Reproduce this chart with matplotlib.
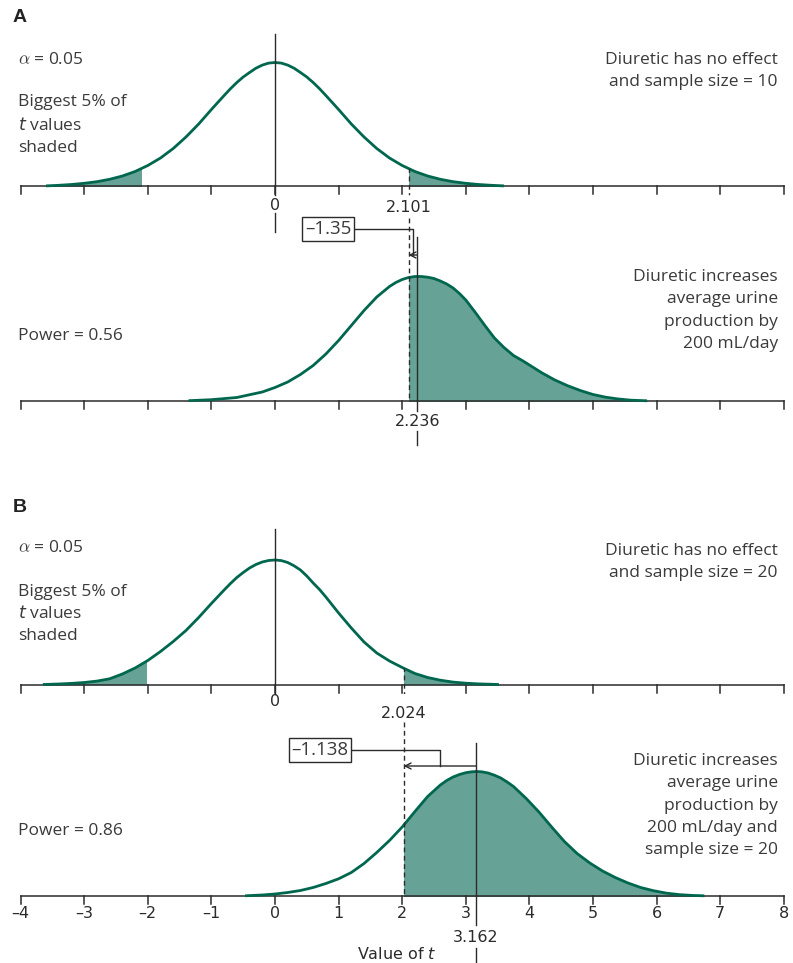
import numpy as np
import matplotlib.pyplot as plt
from matplotlib.patches import Rectangle, Polygon

# ---- values ----------------------------------------------------------
# t values along each curve and curve height (px above its axis line)
a_null_t = [-3.6, -3.4, -3.2, -3.0, -2.8, -2.6, -2.4, -2.2, -2.0, -1.8, -1.6, -1.4, -1.2,
            -1.0, -0.9, -0.8, -0.7, -0.6, -0.5, -0.4, -0.3, -0.2, -0.1, 0.0,
            0.1, 0.2, 0.3, 0.4, 0.5, 0.6, 0.7, 0.8, 0.9, 1.0, 1.2, 1.4, 1.6,
            1.8, 2.0, 2.2, 2.4, 2.6, 2.8, 3.0, 3.2, 3.4, 3.6]
a_null_h = [0.6, 1.2, 2.0, 3.2, 4.8, 7.2, 10.5, 15, 21, 28.5, 38, 49.5, 62.5,
            77, 84, 91, 97.8, 104, 109.5, 114, 118.3, 121.4, 123.4, 124,
            123.4, 121.4, 118.3, 114, 109.5, 104, 97.8, 91, 84, 77, 62.5, 49.5, 38,
            28.5, 21, 15, 10.5, 7.2, 4.8, 3.2, 2.0, 1.2, 0.6]

a_alt_t = [-1.36, -1.0, -0.6, -0.2, 0.0, 0.2, 0.4, 0.6, 0.8, 1.0, 1.2, 1.4, 1.6, 1.8,
           1.9, 2.0, 2.1, 2.2, 2.3, 2.4, 2.5, 2.6, 2.7, 2.8, 2.9, 3.0, 3.15, 3.3, 3.45,
           3.6, 3.75, 3.9, 4.05, 4.2, 4.4, 4.6, 4.8, 5.0, 5.2, 5.4, 5.6, 5.85]
a_alt_h = [0.8, 1.8, 4.0, 9.5, 14, 19.5, 27, 36, 47.5, 61, 76, 91, 104.5, 115,
           119, 122, 124, 125, 125, 124.3, 123, 120.5, 117.5, 113.5, 108, 101.5, 89, 76, 63.5,
           54, 46, 40.5, 34.5, 28.5, 21.5, 15.8, 11, 7, 4.3, 2.5, 1.3, 0.7]

b_null_t = [-3.65, -3.4, -3.2, -3.0, -2.8, -2.6, -2.4, -2.2, -2.0, -1.8, -1.6, -1.4,
            -1.2, -1.0, -0.8, -0.7, -0.6, -0.5, -0.4, -0.3, -0.2, -0.1, 0.0,
            0.1, 0.2, 0.3, 0.4, 0.5, 0.6, 0.7, 0.8, 1.0, 1.2, 1.4,
            1.6, 1.8, 2.0, 2.2, 2.4, 2.6, 2.8, 3.0, 3.2, 3.52]
b_null_h = [0.5, 1.0, 1.6, 2.5, 3.9, 6.2, 11, 17, 24.5, 33.5, 43.5, 54.5,
            67.5, 81.5, 95, 101.5, 107.5, 112.5, 117, 120.5, 123, 124.5, 125,
            124.4, 122.5, 119.2, 115, 109, 102, 95.5, 88, 72, 57, 43,
            32, 24, 17.5, 11.5, 7.5, 4.8, 2.9, 1.8, 1.1, 0.5]

b_alt_t = [-0.47, -0.2, 0.0, 0.2, 0.4, 0.6, 0.8, 1.0, 1.2, 1.4, 1.6, 1.8, 2.0, 2.2,
           2.4, 2.6, 2.7, 2.8, 2.9, 3.0, 3.08, 3.162, 3.25, 3.35, 3.45, 3.55, 3.65, 3.75,
           3.95, 4.15, 4.35, 4.55, 4.75, 4.95, 5.15, 5.35, 5.55, 5.75, 5.95, 6.15, 6.35,
           6.55, 6.75]
b_alt_h = [0.7, 1.5, 2.5, 4, 6, 9, 13, 17.7, 24, 33, 44, 56, 69.5, 85,
           100, 111.5, 116, 119.5, 122, 123.8, 124.6, 125, 124.7, 123.5, 121.3, 118.5, 114.5, 110,
           98, 84.5, 69.5, 55, 43, 33.5, 25.5, 19, 13.5, 9, 5.8, 3.4, 1.9,
           1.1, 0.7]

crit_a, crit_b = 2.101, 2.024
shift_a, shift_b = 2.236, 3.162
diff_a, diff_b = '\u20131.35', '\u20131.138'
power_a, power_b = 0.56, 0.86
alpha = 0.05
n_a, n_b = 10, 20

tick_vals = list(range(-4, 9))
tick_labels = [('\u2013%d' % -v) if v < 0 else str(v) for v in tick_vals]

# ---- look ------------------------------------------------------------
GREEN = '#00674f'
FILL = '#66a295'
DARK = '#2b2b2b'
TXT = '#3a3a3a'
MAIN = ['Open Sans', 'DejaVu Sans']
NUM = ['DejaVu Sans']

ZERO_PX, UNIT_PX = 275.0, 63.6


def px(x):
    """pixel column -> t value (for placing text)"""
    return (x - ZERO_PX) / UNIT_PX


fig = plt.figure(figsize=(7.93, 9.63), dpi=100)
ax = fig.add_axes([0, 0, 1, 1])
ax.set_xlim(px(0), px(793))
ax.set_ylim(963, 0)
ax.axis('off')


def axis_line(base):
    ax.plot([tick_vals[0], tick_vals[-1]], [base, base], color=DARK, lw=1.1, zorder=2)
    for v in tick_vals:
        ax.plot([v, v], [base, base + 8], color=DARK, lw=1.1, zorder=2)


def curve(t, h, base, shades):
    t = np.asarray(t, float)
    y = base - np.asarray(h, float)
    for lo, hi in shades:
        poly = ax.fill_between(t, base, y, color=FILL, lw=0, zorder=1)
        poly.set_clip_path(Rectangle((lo, 0), hi - lo, 963, transform=ax.transData))
    ax.plot(t, y, color=GREEN, lw=2.0, zorder=3, solid_capstyle='butt',
            solid_joinstyle='round')
    # outline used to cut dashed lines at the curve
    pts = np.column_stack([np.r_[t[0], t, t[-1]], np.r_[base + 9, y, base + 9]])
    return Polygon(pts, closed=True, transform=ax.transData)


def dashed(x, y0, y1, clip=None):
    ln, = ax.plot([x, x], [y0, y1], color=DARK, lw=1.0, ls=(0, (3.5, 2.5)), zorder=4)
    if clip is not None:
        ln.set_clip_path(clip)


def solid(x, y0, y1):
    ax.plot([x, x], [y0, y1], color=DARK, lw=1.0, zorder=4)


def lines(x, y, rows, ha='left', step=22.3):
    for i, s in enumerate(rows):
        ax.text(x, y + i * step, s, ha=ha, va='center', fontsize=12.5,
                color=TXT, family=MAIN)


def diff_box(xc, yb, text, mid, ya, x_from, x_to):
    ax.plot([xc, mid, mid], [yb, yb, ya], color=DARK, lw=1.0, zorder=4)
    ax.annotate('', xy=(x_to, ya), xytext=(x_from, ya),
                arrowprops=dict(arrowstyle='->,head_length=0.35,head_width=0.18',
                                color=DARK, lw=1.0, shrinkA=0, shrinkB=0,
                                mutation_scale=12), zorder=4)
    ax.text(xc, yb, text, ha='center', va='center', fontsize=13.5, color=TXT,
            family=MAIN, zorder=6,
            bbox=dict(boxstyle='square,pad=0.15', fc='white', ec=DARK, lw=1.0))


def num(x, y, s):
    ax.text(x, y, s, ha='center', va='center', fontsize=11.5, color=DARK, family=NUM)


# ================= panel A =================
ax.text(px(13), 18, 'A', ha='left', va='center', fontsize=14, fontweight='bold',
        color='#222222', family=['Liberation Sans', 'DejaVu Sans'])

base = 186.5
axis_line(base)
clip = curve(a_null_t, a_null_h, base, [(a_null_t[0] - 1, -crit_a), (crit_a, a_null_t[-1] + 1)])
solid(0, 34, base + 9)
num(0, 205, '0')
solid(0, 213, 232)
dashed(crit_a, base - 60, base + 9, clip)
num(crit_a, 208, '%.3f' % crit_a)

ax.text(px(18), 60, r'$\alpha$ = %.2f' % alpha, ha='left', va='center', fontsize=12.5,
        color=TXT, family=MAIN, math_fontfamily='cm')
lines(px(18), 102, ['Biggest 5% of', r'$\it{t}$ values', 'shaded'], step=23)
lines(px(778), 60, ['Diuretic has no effect', 'and sample size = %d' % n_a], ha='right')

base = 401.5
axis_line(base)
curve(a_alt_t, a_alt_h, base, [(crit_a, a_alt_t[-1] + 1)])
dashed(crit_a, 218, base)
solid(shift_a, 237, base + 10)
num(shift_a, 422, '%.3f' % shift_a)
solid(shift_a, 431, 445)
diff_box(px(328), 229, diff_a, (crit_a + shift_a) / 2, 255, shift_a, crit_a)

lines(px(778), 277, ['Diuretic increases', 'average urine', 'production by',
                     '200 mL/day'], ha='right')
lines(px(18), 336, ['Power = %.2f' % power_a])

# ================= panel B =================
ax.text(px(13), 507, 'B', ha='left', va='center', fontsize=14, fontweight='bold',
        color='#222222', family=['Liberation Sans', 'DejaVu Sans'])

base = 685
axis_line(base)
clip = curve(b_null_t, b_null_h, base, [(b_null_t[0] - 1, -crit_b), (crit_b, b_null_t[-1] + 1)])
solid(0, 529, base + 9)
num(0, 701, '0')
dashed(crit_b, base - 60, base + 9, clip)
num(crit_b, 713, '%.3f' % crit_b)

ax.text(px(18), 548, r'$\alpha$ = %.2f' % alpha, ha='left', va='center', fontsize=12.5,
        color=TXT, family=MAIN, math_fontfamily='cm')
lines(px(18), 592, ['Biggest 5% of', r'$\it{t}$ values', 'shaded'], step=22)
lines(px(778), 551, ['Diuretic has no effect', 'and sample size = %d' % n_b], ha='right')

base = 896.5
axis_line(base)
curve(b_alt_t, b_alt_h, base, [(crit_b, b_alt_t[-1] + 1)])
dashed(crit_b, 722, base)
solid(shift_b, 743, 925)
num(shift_b, 938, '%.3f' % shift_b)
solid(shift_b, 948, 963)
diff_box(px(320), 750, diff_b, (crit_b + shift_b) / 2, 766, shift_b, crit_b)

for v, s in zip(tick_vals, tick_labels):
    num(v, 914, s)
ax.text(px(397), 954, r'Value of $\it{t}$', ha='center', va='center', fontsize=11.5,
        color=DARK, family=NUM)

lines(px(778), 761, ['Diuretic increases', 'average urine', 'production by',
                     '200 mL/day and', 'sample size = %d' % n_b], ha='right')
lines(px(18), 831, ['Power = %.2f' % power_b])

fig.savefig('out.png', dpi=100)
